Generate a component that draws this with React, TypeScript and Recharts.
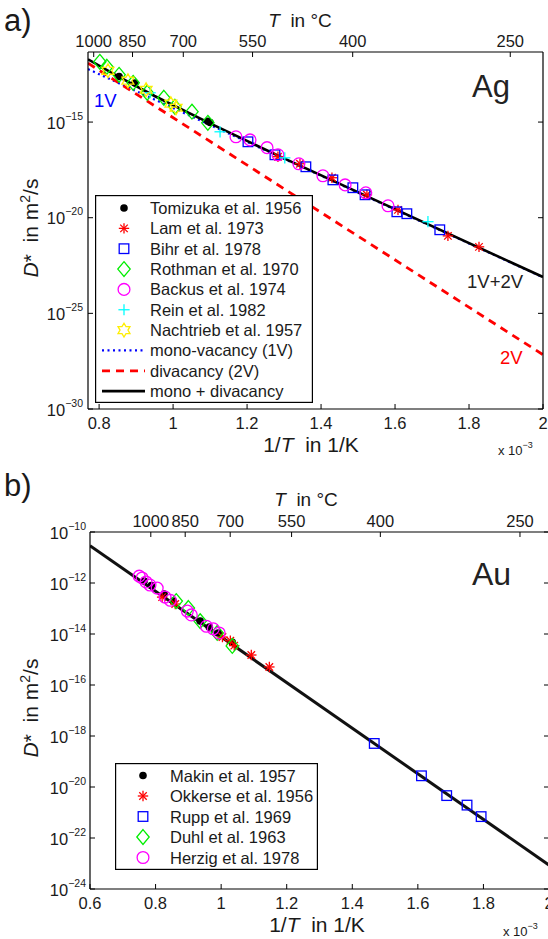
import React from 'react';
import { ComposedChart, Scatter, Line, XAxis, YAxis, Legend } from 'recharts';

const FONT = '"Liberation Sans", Arial, Helvetica, sans-serif';
const INK = '#1a1a1a';
const BLUE = '#0000ff';
const RED = '#ff0000';
const GREEN = '#00ee00';
const MAGENTA = '#ff00ff';
const CYAN = '#00ffff';
const YELLOW = '#ffee00';
const TICK_FS = 16.5;

// ---------------- Panel a) Ag : x = 1/T in 10^-3 1/K, y = D* in m^2/s ----------------
const agTomizuka: [number, number][] = [[0.854, 2.4e-13], [0.897, 1.1e-13], [1.094, 1.1e-15], [1.1, 9.5e-16]];
const agLam: [number, number][] = [[1.2835, 1.55e-17], [1.343, 6.6e-18], [1.4295, 1.23e-18], [1.524, 1.58e-19], [1.608, 2.57e-20], [1.743, 1.12e-21], [1.827, 3.0e-22]];
const agBihr: [number, number][] = [[1.2024, 9.3e-17], [1.2754, 1.95e-17], [1.359, 4.6e-18], [1.432, 9.5e-19], [1.486, 3.7e-19], [1.519, 1.58e-19], [1.605, 2.04e-20], [1.632, 1.62e-20], [1.721, 2.34e-21]];
const agRothman: [number, number][] = [[0.802, 1.41e-12], [0.821, 7.8e-13], [0.854, 2.95e-13], [0.892, 1.12e-13], [0.93, 3.4e-14], [0.975, 1.86e-14], [1.005, 6.3e-15], [1.051, 3.5e-15], [1.094, 9.1e-16]];
const agBackus: [number, number][] = [[1.17, 1.7e-16], [1.208, 1.17e-16], [1.254, 4.6e-17], [1.2835, 1.95e-17], [1.34, 6.6e-18], [1.405, 1.55e-18], [1.465, 5.2e-19], [1.521, 2.0e-19], [1.581, 4.2e-20]];
const agRein: [number, number][] = [[0.938, 3.4e-14], [1.127, 3.1e-16], [1.302, 1.35e-17], [1.689, 6.2e-21]];
const agNachtrieb: [number, number][] = [[0.824, 4.8e-13], [0.878, 1.45e-13], [0.927, 4.9e-14], [0.994, 9.1e-15], [1.008, 5.6e-15]];
const agMono: [number, number][] = [[0.77, 5.9e-13], [2.0, 7.6e-24]];
const agDi: [number, number][] = [[0.77, 1.2e-12], [2.0, 6.9e-28]];
const agTotal: [number, number][] = [[0.77, 1.9e-12], [0.85, 2.5e-13], [0.95, 2.3e-14], [1.1, 8.5e-16], [1.3, 1.26e-17], [1.6, 2.8e-20], [2.0, 7.9e-24]];

const agMarkerNames = ['Tomizuka et al. 1956', 'Lam et al. 1973', 'Bihr et al. 1978', 'Rothman et al. 1970', 'Backus et al. 1974', 'Rein et al. 1982', 'Nachtrieb et al. 1957'];
const agLineNames = ['mono-vacancy (1V)', 'divacancy (2V)', 'mono + divacancy'];
const agXTicks = [0.8, 1, 1.2, 1.4, 1.6, 1.8, 2];
const agYTicks = [1e-30, 1e-25, 1e-20, 1e-15];

// ---------------- Panel b) Au ----------------
const auMakin: [number, number][] = [[0.765, 1.2e-12], [0.787, 7.9e-13], [0.826, 3.7e-13], [0.854, 1.95e-13], [0.936, 3.2e-14], [0.964, 1.86e-14], [0.991, 1.1e-14], [1.034, 4.7e-15]];
const auOkkerse: [number, number][] = [[0.82, 2.8e-13], [0.86, 1.5e-13], [1.004, 7.6e-15], [1.028, 5.4e-15], [1.04, 3.5e-15], [1.092, 1.5e-15], [1.147, 5.1e-16]];
const auRupp: [number, number][] = [[1.467, 5.1e-19], [1.611, 2.75e-20], [1.688, 4.6e-21], [1.75, 1.95e-21], [1.793, 6.9e-22]];
const auDuhl: [number, number][] = [[0.863, 1.95e-13], [0.9, 1.05e-13], [0.936, 3.2e-14], [0.988, 1.1e-14], [1.034, 3.4e-15]];
const auHerzig: [number, number][] = [[0.75, 1.86e-12], [0.759, 1.58e-12], [0.771, 1.1e-12], [0.783, 8.3e-13], [0.805, 6.3e-13], [0.829, 2.8e-13], [0.845, 2.1e-13], [0.897, 7.9e-14], [0.909, 5.6e-14], [0.955, 2.0e-14], [0.976, 1.6e-14], [0.994, 1.1e-14]];
const auFit: [number, number][] = [[0.6, 2.9e-11], [2.0, 8.7e-24]];

const auMarkerNames = ['Makin et al. 1957', 'Okkerse et al. 1956', 'Rupp et al. 1969', 'Duhl et al. 1963', 'Herzig et al. 1978'];
const auXTicks = [0.6, 0.8, 1, 1.2, 1.4, 1.6, 1.8, 2];
const auYTicks = [1e-24, 1e-22, 1e-20, 1e-18, 1e-16, 1e-14, 1e-12, 1e-10];

// top temperature axis (°C)
const tempLabels = [1000, 850, 700, 550, 400, 250];
const tempTicks = tempLabels.map((t) => 1000 / (t + 273.15));

const pts = (a: [number, number][]) => a.map(([x, y]) => ({ x, y }));

type Kind = 'dot' | 'asterisk' | 'square' | 'diamond' | 'circle' | 'plus' | 'hexagram';

function Marker({ cx, cy, kind, color, scale = 1 }: { cx: number; cy: number; kind: Kind; color: string; scale?: number }) {
  const sw = 1.3;
  if (cx == null || cy == null) return null;
  switch (kind) {
    case 'dot':
      return <circle cx={cx} cy={cy} r={3.8 * scale} fill={color} />;
    case 'asterisk': {
      const r = 5.2 * scale;
      const d = r * 0.72;
      return (
        <g stroke={color} strokeWidth={sw}>
          <line x1={cx - r} y1={cy} x2={cx + r} y2={cy} />
          <line x1={cx} y1={cy - r} x2={cx} y2={cy + r} />
          <line x1={cx - d} y1={cy - d} x2={cx + d} y2={cy + d} />
          <line x1={cx - d} y1={cy + d} x2={cx + d} y2={cy - d} />
        </g>
      );
    }
    case 'square': {
      const h = 4.8 * scale;
      return <rect x={cx - h} y={cy - h} width={2 * h} height={2 * h} fill="none" stroke={color} strokeWidth={sw} />;
    }
    case 'diamond': {
      const w = 6.2 * scale;
      const h = 7.4 * scale;
      return <polygon points={`${cx},${cy - h} ${cx + w},${cy} ${cx},${cy + h} ${cx - w},${cy}`} fill="none" stroke={color} strokeWidth={sw} />;
    }
    case 'circle':
      return <circle cx={cx} cy={cy} r={5.9 * scale} fill="none" stroke={color} strokeWidth={sw} />;
    case 'plus': {
      const r = 5.6 * scale;
      return (
        <g stroke={color} strokeWidth={sw}>
          <line x1={cx - r} y1={cy} x2={cx + r} y2={cy} />
          <line x1={cx} y1={cy - r} x2={cx} y2={cy + r} />
        </g>
      );
    }
    case 'hexagram': {
      const R = 6.9 * scale;
      const ri = R / Math.sqrt(3);
      const p: string[] = [];
      for (let k = 0; k < 12; k++) {
        const a = ((-90 + k * 30) * Math.PI) / 180;
        const rr = k % 2 === 0 ? R : ri;
        p.push(`${cx + rr * Math.cos(a)},${cy + rr * Math.sin(a)}`);
      }
      return <polygon points={p.join(' ')} fill="none" stroke={color} strokeWidth={sw} />;
    }
  }
  return null;
}

const mk = (kind: Kind, color: string) => (p: any) => <Marker cx={p.cx} cy={p.cy} kind={kind} color={color} />;

// ---------- ticks (MATLAB style, inward) ----------
function BottomTick(p: any) {
  const { x, y, payload } = p;
  return (
    <g>
      <line x1={x} x2={x} y1={y} y2={y - 5} stroke="#000" strokeWidth={1} />
      <text x={x} y={y + 19.5} textAnchor="middle" fontSize={TICK_FS} fontFamily={FONT} fill={INK}>
        {String(payload.value)}
      </text>
    </g>
  );
}

function TopTick(p: any) {
  const { x, y, index } = p;
  return (
    <g>
      <line x1={x} x2={x} y1={y} y2={y + 5} stroke="#000" strokeWidth={1} />
      <text x={x} y={y - 5} textAnchor="middle" fontSize={TICK_FS} fontFamily={FONT} fill={INK}>
        {String(tempLabels[index])}
      </text>
    </g>
  );
}

function LeftTick(p: any) {
  const { x, y, payload, gap } = p;
  const e = Math.round(Math.log10(payload.value));
  return (
    <g>
      <line x1={x} x2={x + 5} y1={y} y2={y} stroke="#000" strokeWidth={1} />
      <text x={x - (gap ?? 5)} y={y + 6.5} textAnchor="end" fontFamily={FONT} fill={INK}>
        <tspan fontSize={TICK_FS}>10</tspan>
        <tspan fontSize={10.5} dy={-9}>{'\u2212' + Math.abs(e)}</tspan>
      </text>
    </g>
  );
}

function RightTick(p: any) {
  const { x, y } = p;
  return <line x1={x} x2={x - 5} y1={y} y2={y} stroke="#000" strokeWidth={1} />;
}

// ---------- legend ----------
type Row = { name: string; kind?: Kind; color: string; dash?: string; width?: number };

function LegendBox({ w, h, rows, top, step, markerX, lineX1, lineX2, textX }: { w: number; h: number; rows: Row[]; top: number; step: number; markerX: number; lineX1: number; lineX2: number; textX: number }) {
  return (
    <svg width={w} height={h} style={{ display: 'block' }}>
      <rect x={0.6} y={0.6} width={w - 1.2} height={h - 1.2} fill="#fff" stroke="#000" strokeWidth={1.2} />
      {rows.map((r, i) => {
        const cy = top + i * step;
        return (
          <g key={r.name}>
            {r.kind ? (
              <Marker cx={markerX} cy={cy} kind={r.kind} color={r.color} />
            ) : (
              <line x1={lineX1} x2={lineX2} y1={cy} y2={cy} stroke={r.color} strokeWidth={r.width} strokeDasharray={r.dash} />
            )}
            <text x={textX} y={cy + 6} fontSize={16.5} fontFamily={FONT} fill={INK}>
              {r.name}
            </text>
          </g>
        );
      })}
    </svg>
  );
}

const agKinds: Kind[] = ['dot', 'asterisk', 'square', 'diamond', 'circle', 'plus', 'hexagram'];
const agColors = ['#000', RED, BLUE, GREEN, MAGENTA, CYAN, YELLOW];
const agRows: Row[] = [
  ...agMarkerNames.map((n, i) => ({ name: n, kind: agKinds[i], color: agColors[i] })),
  { name: agLineNames[0], color: BLUE, dash: '2 3.5', width: 2.2 },
  { name: agLineNames[1], color: RED, dash: '8 6', width: 2.8 },
  { name: agLineNames[2], color: '#000', width: 2.6 },
];
const auKinds: Kind[] = ['dot', 'asterisk', 'square', 'diamond', 'circle'];
const auColors = ['#000', RED, BLUE, GREEN, MAGENTA];
const auRows: Row[] = auMarkerNames.map((n, i) => ({ name: n, kind: auKinds[i], color: auColors[i] }));

const axisLine = { stroke: '#000', strokeWidth: 1.2 };

function PanelA() {
  const series: [number, number][][] = [agTomizuka, agLam, agBihr, agRothman, agBackus, agRein, agNachtrieb];
  return (
    <ComposedChart width={548} height={470} margin={{ top: 22, right: 0, bottom: 31, left: 28 }}>
      <XAxis xAxisId="b" dataKey="x" type="number" domain={[0.77, 2]} allowDataOverflow ticks={agXTicks} interval={0} tick={<BottomTick />} tickLine={false} tickSize={0} tickMargin={0} height={30} axisLine={axisLine} />
      <XAxis xAxisId="t" orientation="top" dataKey="x" type="number" domain={[0.77, 2]} allowDataOverflow ticks={tempTicks} interval={0} tick={<TopTick />} tickLine={false} tickSize={0} tickMargin={0} height={30} axisLine={axisLine} />
      <YAxis yAxisId="l" dataKey="y" type="number" scale="log" domain={[1e-30, 4.6e-12]} allowDataOverflow ticks={agYTicks} interval={0} tick={<LeftTick gap={5} />} tickLine={false} tickSize={0} tickMargin={0} width={60} axisLine={axisLine} />
      <YAxis yAxisId="r" orientation="right" dataKey="y" type="number" scale="log" domain={[1e-30, 4.6e-12]} allowDataOverflow ticks={agYTicks} interval={0} tick={<RightTick />} tickLine={false} tickSize={0} tickMargin={0} width={5} axisLine={axisLine} />
      {series.map((s, i) => (
        <Scatter key={agMarkerNames[i]} name={agMarkerNames[i]} xAxisId="b" yAxisId="l" data={pts(s)} shape={mk(agKinds[i], agColors[i])} isAnimationActive={false} />
      ))}
      <Line xAxisId="b" yAxisId="l" name={agLineNames[0]} data={pts(agMono)} dataKey="y" stroke={BLUE} strokeWidth={2.2} strokeDasharray="2 3.5" dot={false} activeDot={false} isAnimationActive={false} />
      <Line xAxisId="b" yAxisId="l" name={agLineNames[1]} data={pts(agDi)} dataKey="y" stroke={RED} strokeWidth={2.8} strokeDasharray="8 6" dot={false} activeDot={false} isAnimationActive={false} />
      <Line xAxisId="b" yAxisId="l" name={agLineNames[2]} data={pts(agTotal)} dataKey="y" stroke="#000" strokeWidth={2.6} dot={false} activeDot={false} isAnimationActive={false} />
      <Legend
        layout="vertical"
        align="center"
        verticalAlign="middle"
        wrapperStyle={{ left: 95, top: 195, width: 218, height: 208, margin: 0, padding: 0, lineHeight: 0 }}
        content={() => <LegendBox w={218} h={208} rows={agRows} top={13} step={20.35} markerX={29} lineX1={7} lineX2={50} textX={55} />}
      />
    </ComposedChart>
  );
}

function PanelB() {
  const series: [number, number][][] = [auMakin, auOkkerse, auRupp, auDuhl, auHerzig];
  return (
    <ComposedChart width={550} height={469} margin={{ top: 32, right: 0, bottom: 20, left: 30 }}>
      <XAxis xAxisId="b" dataKey="x" type="number" domain={[0.6, 2]} allowDataOverflow ticks={auXTicks} interval={0} tick={<BottomTick />} tickLine={false} tickSize={0} tickMargin={0} height={30} axisLine={axisLine} />
      <XAxis xAxisId="t" orientation="top" dataKey="x" type="number" domain={[0.6, 2]} allowDataOverflow ticks={tempTicks} interval={0} tick={<TopTick />} tickLine={false} tickSize={0} tickMargin={0} height={30} axisLine={axisLine} />
      <YAxis yAxisId="l" dataKey="y" type="number" scale="log" domain={[1e-24, 1e-10]} allowDataOverflow ticks={auYTicks} interval={0} tick={<LeftTick gap={4} />} tickLine={false} tickSize={0} tickMargin={0} width={60} axisLine={axisLine} />
      <YAxis yAxisId="r" orientation="right" dataKey="y" type="number" scale="log" domain={[1e-24, 1e-10]} allowDataOverflow ticks={auYTicks} interval={0} tick={<RightTick />} tickLine={false} tickSize={0} tickMargin={0} width={1} axisLine={axisLine} />
      {series.map((s, i) => (
        <Scatter key={auMarkerNames[i]} name={auMarkerNames[i]} xAxisId="b" yAxisId="l" data={pts(s)} shape={mk(auKinds[i], auColors[i])} isAnimationActive={false} />
      ))}
      <Line xAxisId="b" yAxisId="l" name="fit" data={pts(auFit)} dataKey="y" stroke="#111" strokeWidth={3} dot={false} activeDot={false} isAnimationActive={false} />
      <Legend
        layout="vertical"
        align="center"
        verticalAlign="middle"
        wrapperStyle={{ left: 115, top: 293, width: 203, height: 107, margin: 0, padding: 0, lineHeight: 0 }}
        content={() => <LegendBox w={203} h={107} rows={auRows} top={12.5} step={20.5} markerX={28} lineX1={7} lineX2={50} textX={55} />}
      />
    </ComposedChart>
  );
}

function YLabel({ x, y }: { x: number; y: number }) {
  return (
    <text transform={`translate(${x},${y}) rotate(-90)`} textAnchor="middle" fontSize={21} fontFamily={FONT} fill={INK} style={{ whiteSpace: 'pre' }}>
      <tspan fontStyle="italic">D</tspan>
      <tspan>{'*  in m'}</tspan>
      <tspan fontSize={14} dy={-8}>2</tspan>
      <tspan dy={8}>/s</tspan>
    </text>
  );
}

function XLabel({ x, y }: { x: number; y: number }) {
  return (
    <text x={x} y={y} textAnchor="middle" fontSize={21} fontFamily={FONT} fill={INK} style={{ whiteSpace: 'pre' }}>
      <tspan>1/</tspan>
      <tspan fontStyle="italic">T</tspan>
      <tspan>{'  in 1/K'}</tspan>
    </text>
  );
}

function TLabel({ x, y }: { x: number; y: number }) {
  return (
    <text x={x} y={y} textAnchor="middle" fontSize={19} fontFamily={FONT} fill={INK} style={{ whiteSpace: 'pre' }}>
      <tspan fontStyle="italic">T</tspan>
      <tspan>{'  in °C'}</tspan>
    </text>
  );
}

function Exp({ x, y }: { x: number; y: number }) {
  return (
    <text x={x} y={y} fontSize={13} fontFamily={FONT} fill={INK}>
      <tspan>x 10</tspan>
      <tspan fontSize={9} dy={-7}>{'\u22123'}</tspan>
    </text>
  );
}

function Annotations() {
  return (
    <svg width={548} height={939} style={{ position: 'absolute', left: 0, top: 0, pointerEvents: 'none' }}>
      <text x={4} y={31} fontSize={31} fontFamily={FONT} fill={INK}>a)</text>
      <TLabel x={300} y={27} />
      <text x={472} y={97} fontSize={31} fontFamily={FONT} fill="#222">Ag</text>
      <text x={94} y={107} fontSize={18.5} fontFamily={FONT} fill={BLUE}>1V</text>
      <text x={467} y={288} fontSize={18.5} fontFamily={FONT} fill="#222">1V+2V</text>
      <text x={500} y={364} fontSize={18.5} fontFamily={FONT} fill={RED}>2V</text>
      <YLabel x={38} y={228} />
      <XLabel x={311} y={452} />
      <Exp x={498} y={455} />

      <text x={4} y={496} fontSize={31} fontFamily={FONT} fill={INK}>b)</text>
      <TLabel x={306} y={506} />
      <text x={472} y={585} fontSize={32} fontFamily={FONT} fill="#222">Au</text>
      <YLabel x={38} y={708} />
      <XLabel x={317} y={932} />
      <Exp x={503} y={936} />
    </svg>
  );
}

export default function App() {
  return (
    <div style={{ position: 'absolute', left: 0, top: 0, width: 548, height: 939, overflow: 'hidden', background: '#fff', fontFamily: FONT }}>
      <div style={{ position: 'absolute', left: 0, top: 0 }}>
        <PanelA />
      </div>
      <div style={{ position: 'absolute', left: 0, top: 470 }}>
        <PanelB />
      </div>
      <Annotations />
    </div>
  );
}
